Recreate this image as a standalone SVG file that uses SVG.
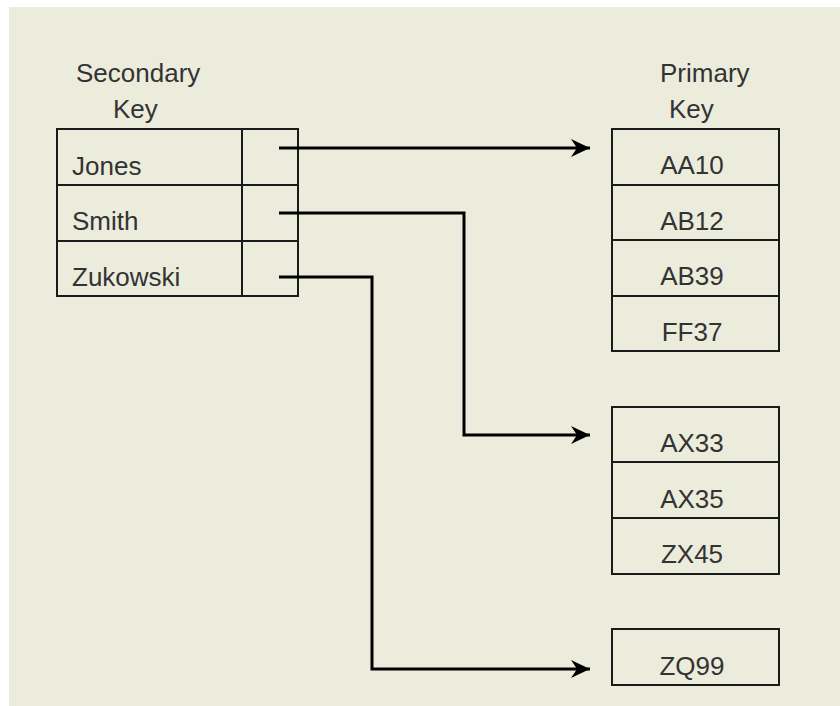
<svg xmlns="http://www.w3.org/2000/svg" width="840" height="706" viewBox="0 0 840 706">
<style>
.cell{fill:none;stroke:#1a1a1a;stroke-width:2}
.t{font-family:"Liberation Sans",Arial,sans-serif;font-size:26px;fill:#333}
.c{text-anchor:middle}
.wire{fill:none;stroke:#000;stroke-width:3}
</style>
<defs>
<marker id="ah" markerUnits="userSpaceOnUse" markerWidth="24" markerHeight="24" refX="19" refY="10" orient="auto" viewBox="0 0 24 20">
<path d="M19,10 L0,1 L6,10 L0,19 Z" fill="#000"/>
</marker>
</defs>
<rect x="9" y="7" width="831" height="699" fill="#ECECDC"/>
<g id="secondary-label">
<text class="t" x="76" y="82">Secondary</text>
<text class="t" x="113" y="118">Key</text>
</g>
<g id="primary-label">
<text class="t" x="660" y="82">Primary</text>
<text class="t" x="669" y="118">Key</text>
</g>
<g id="secondary-table">
<rect class="cell" x="57" y="129" width="241" height="167"/>
<line class="cell" x1="242" y1="129" x2="242" y2="296"/>
<line class="cell" x1="57" y1="185" x2="298" y2="185"/>
<line class="cell" x1="57" y1="241" x2="298" y2="241"/>
<text class="t" x="72" y="175">Jones</text>
<text class="t" x="72" y="230">Smith</text>
<text class="t" x="72" y="286">Zukowski</text>
</g>
<g id="primary-table-1">
<rect class="cell" x="612" y="129" width="167" height="222"/>
<line class="cell" x1="612" y1="185" x2="779" y2="185"/>
<line class="cell" x1="612" y1="240" x2="779" y2="240"/>
<line class="cell" x1="612" y1="296" x2="779" y2="296"/>
<text class="t c" x="692" y="174">AA10</text>
<text class="t c" x="692" y="230">AB12</text>
<text class="t c" x="692" y="285">AB39</text>
<text class="t c" x="692" y="341">FF37</text>
</g>
<g id="primary-table-2">
<rect class="cell" x="612" y="407" width="167" height="167"/>
<line class="cell" x1="612" y1="462" x2="779" y2="462"/>
<line class="cell" x1="612" y1="518" x2="779" y2="518"/>
<text class="t c" x="692" y="452">AX33</text>
<text class="t c" x="692" y="508">AX35</text>
<text class="t c" x="692" y="563">ZX45</text>
</g>
<g id="primary-table-3">
<rect class="cell" x="612" y="629" width="167" height="56"/>
<text class="t c" x="692" y="675">ZQ99</text>
</g>
<g id="connectors">
<path class="wire" d="M279,148 H590" marker-end="url(#ah)"/>
<path class="wire" d="M279,213 H464 V435 H590" marker-end="url(#ah)"/>
<path class="wire" d="M279,277 H372 V669 H590" marker-end="url(#ah)"/>
</g>
</svg>
